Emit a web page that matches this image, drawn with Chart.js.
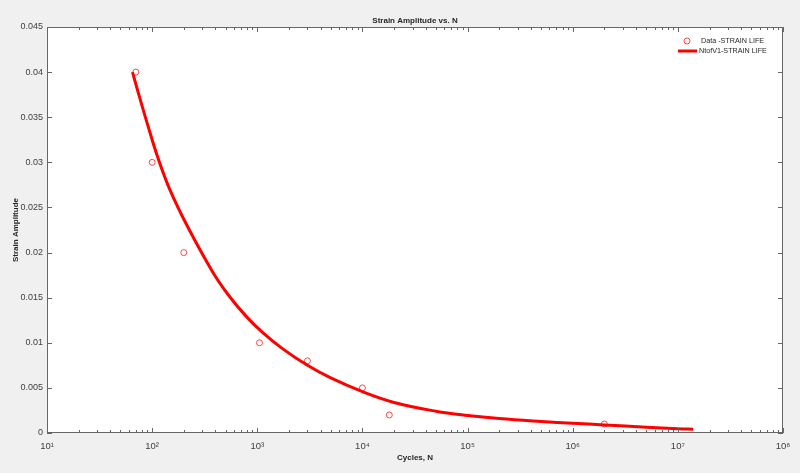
<!DOCTYPE html>
<html>
<head>
<meta charset="utf-8">
<script src="https://cdn.jsdelivr.net/npm/chart.js@4.4.1/dist/chart.umd.min.js"></script>
<style>
  body { margin: 0; background: #f0f0f0; }
  #wrap { width: 800px; height: 473px; }
</style>
</head>
<body>
<div id="wrap"><canvas id="chart"></canvas></div>
<script>
  // measured points
  const dataN = [70, 100, 200, 1050, 3000, 10000, 18000, 2000000];
  const dataStrain = [0.04, 0.03, 0.02, 0.01, 0.008, 0.005, 0.002, 0.001];

  // fitted strain-life curve
  const fitN = [65, 76, 91, 112, 147, 219, 379, 547, 789, 1135, 1762, 3000, 5000,
    10000, 20000, 50000, 100000, 200000, 500000, 1000000, 2000000, 5000000, 10000000, 14000000];
  const fitStrain = [0.0400, 0.0372, 0.0341, 0.0307, 0.0270, 0.0228, 0.0178, 0.0151, 0.0129, 0.0111,
    0.0093, 0.0075, 0.0061, 0.00458, 0.00338, 0.00241, 0.00194, 0.0016, 0.00128, 0.00108, 0.0009,
    0.00064, 0.00047, 0.00042];

  const decadeTicks = [10, 100, 1000, 10000, 100000, 1000000, 10000000, 100000000];
  const decadeLabels = ['10¹', '10²', '10³', '10⁴', '10⁵', '10⁶', '10⁷', '10⁸'];
  const yTicks = [0, 0.005, 0.01, 0.015, 0.02, 0.025, 0.03, 0.035, 0.04, 0.045];

  const titleText = 'Strain Amplitude vs. N';
  const FONT = "'Liberation Sans', Arial, sans-serif";
  const AXIS = '#666666';

  const boxPlugin = {
    id: 'matlabBox',
    beforeDraw(chart) {
      const { ctx, chartArea: a } = chart;
      ctx.save();
      ctx.fillStyle = '#ffffff';
      ctx.fillRect(a.left, a.top, a.right - a.left, a.bottom - a.top);
      ctx.restore();
    },
    afterDraw(chart) {
      const { ctx, chartArea: a } = chart;
      const x = chart.scales.x, y = chart.scales.y;
      ctx.save();
      ctx.strokeStyle = AXIS;
      ctx.lineWidth = 1;
      ctx.strokeRect(a.left + 0.5, a.top + 0.5, a.right - a.left - 1, a.bottom - a.top - 1);
      ctx.beginPath();
      // x ticks, inward on bottom and top
      decadeTicks.forEach(d => {
        for (let k = 1; k <= 9; k++) {
          const v = d * k;
          if (v > x.max) break;
          const px = Math.round(x.getPixelForValue(v)) + 0.5;
          const len = k === 1 ? 5 : 3;
          ctx.moveTo(px, a.bottom); ctx.lineTo(px, a.bottom - len);
          ctx.moveTo(px, a.top); ctx.lineTo(px, a.top + len);
        }
      });
      // y ticks, inward on left and right
      yTicks.forEach(v => {
        const py = Math.round(y.getPixelForValue(v)) + 0.5;
        ctx.moveTo(a.left, py); ctx.lineTo(a.left + 5, py);
        ctx.moveTo(a.right, py); ctx.lineTo(a.right - 5, py);
      });
      ctx.stroke();

      // title centred on the axes
      ctx.fillStyle = '#262626';
      ctx.font = 'bold 8px ' + FONT;
      ctx.textAlign = 'center';
      ctx.textBaseline = 'middle';
      ctx.fillText(titleText, (a.left + a.right) / 2, 21);

      // legend inside top right
      const ds = chart.data.datasets;
      ctx.font = '7.2px ' + FONT;
      ctx.textAlign = 'left';
      ctx.strokeStyle = 'rgba(255,0,0,0.7)';
      ctx.lineWidth = 1;
      ctx.beginPath();
      ctx.arc(a.right - 96, a.top + 14, 3, 0, Math.PI * 2);
      ctx.stroke();
      ctx.fillText(ds[0].label, a.right - 82, a.top + 14);
      ctx.strokeStyle = '#ff0000';
      ctx.lineWidth = 3;
      ctx.beginPath();
      ctx.moveTo(a.right - 105, a.top + 24);
      ctx.lineTo(a.right - 86, a.top + 24);
      ctx.stroke();
      ctx.fillText(ds[1].label, a.right - 84, a.top + 24);
      ctx.restore();
    }
  };

  new Chart(document.getElementById('chart'), {
    type: 'scatter',
    data: {
      datasets: [
        {
          label: 'Data -STRAIN LIFE',
          data: dataN.map((n, i) => ({ x: n, y: dataStrain[i] })),
          showLine: false,
          pointStyle: 'circle',
          pointRadius: 3,
          pointBorderWidth: 1,
          pointBorderColor: 'rgba(255,0,0,0.7)',
          pointBackgroundColor: 'rgba(0,0,0,0)',
          order: 0
        },
        {
          label: 'NtofV1-STRAIN LIFE',
          data: fitN.map((n, i) => ({ x: n, y: fitStrain[i] })),
          showLine: true,
          borderColor: '#ff0000',
          borderWidth: 3,
          pointRadius: 0,
          tension: 0.4,
          fill: false,
          order: 1
        }
      ]
    },
    options: {
      responsive: true,
      maintainAspectRatio: false,
      animation: false,
      layout: { padding: { left: 0, right: 17, top: 27, bottom: 0 } },
      plugins: {
        legend: { display: false },
        tooltip: { enabled: false },
        title: { display: false }
      },
      scales: {
        x: {
          type: 'logarithmic',
          min: 10,
          max: 100000000,
          afterFit(s) { s.height = 40; },
          afterBuildTicks(s) { s.ticks = decadeTicks.map(v => ({ value: v })); },
          grid: { display: false, drawTicks: false },
          border: { display: false },
          ticks: {
            autoSkip: false,
            maxRotation: 0,
            padding: 8,
            color: '#404040',
            font: { family: FONT, size: 9.5 },
            callback: v => decadeLabels[decadeTicks.indexOf(v)] || ''
          },
          title: {
            display: true,
            text: 'Cycles, N',
            color: '#262626',
            font: { family: FONT, size: 8, weight: 'bold', lineHeight: 1 },
            padding: { top: 0, bottom: 11 }
          }
        },
        y: {
          type: 'linear',
          min: 0,
          max: 0.045,
          afterFit(s) { s.width = 47; },
          afterBuildTicks(s) { s.ticks = yTicks.map(v => ({ value: v })); },
          grid: { display: false, drawTicks: false },
          border: { display: false },
          ticks: {
            padding: 4,
            color: '#404040',
            font: { family: FONT, size: 9 },
            callback: v => String(+v.toFixed(3))
          },
          title: {
            display: true,
            text: 'Strain Amplitude',
            color: '#262626',
            font: { family: FONT, size: 8, weight: 'bold', lineHeight: 1 },
            padding: { top: 12, bottom: 0 }
          }
        }
      }
    },
    plugins: [boxPlugin]
  });
</script>
</body>
</html>
